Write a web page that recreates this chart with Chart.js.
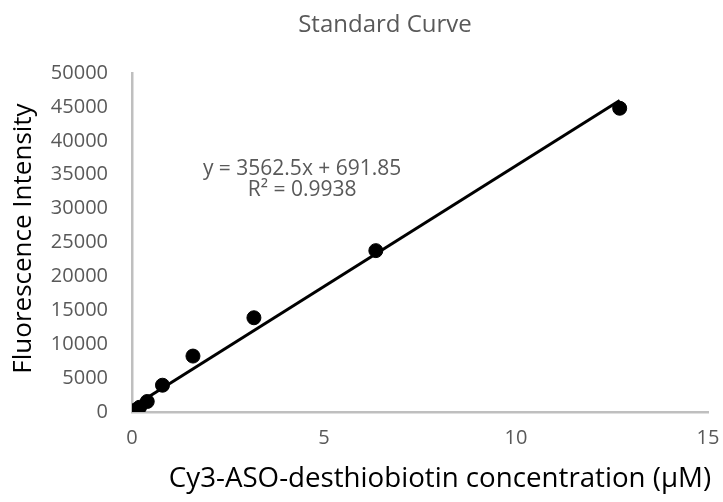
<!DOCTYPE html>
<html>
<head>
<meta charset="utf-8">
<script src="https://cdn.jsdelivr.net/npm/chart.js@4.4.1/dist/chart.umd.min.js"></script>
<style>
  html, body { margin: 0; padding: 0; background: #ffffff; }
  #wrap { width: 723px; height: 502px; }
</style>
</head>
<body>
<div id="wrap"><canvas id="c" width="723" height="502"></canvas></div>
<script>
// Standard curve: Cy3-ASO-desthiobiotin dilution series
const concentrations = [0, 0.099, 0.198, 0.397, 0.794, 1.5875, 3.175, 6.35, 12.7];
const intensities = [0, 300, 700, 1550, 3950, 8250, 13900, 23800, 44800];

// Linear fit reported for the series
const fitSlope = 3562.5;
const fitIntercept = 691.85;
const fitR2 = 0.9938;

const xTicks = [0, 5, 10, 15];
const yTicks = [0, 5000, 10000, 15000, 20000, 25000, 30000, 35000, 40000, 45000, 50000];

const chartTitle = 'Standard Curve';
const xTitle = 'Cy3-ASO-desthiobiotin concentration (\u00B5M)';
const yTitle = 'Fluorescence Intensity';

const grey = '#595959';
const axisGrey = '#bfbfbf';
const fontFamily = '"Open Sans", "Liberation Sans", sans-serif';

const points = concentrations.map((x, i) => ({ x: x, y: intensities[i] }));
const xMinData = Math.min(...concentrations);
const xMaxData = Math.max(...concentrations);
const trend = [
  { x: xMinData, y: fitSlope * xMinData + fitIntercept },
  { x: xMaxData, y: fitSlope * xMaxData + fitIntercept }
];

// Chart title, axis titles and the fit equation
const textLayer = {
  id: 'textLayer',
  afterDraw(chart) {
    const ctx = chart.ctx;
    const area = chart.chartArea;
    const xs = chart.scales.x;
    ctx.save();
    ctx.textBaseline = 'alphabetic';
    ctx.textAlign = 'center';

    // title
    ctx.fillStyle = grey;
    ctx.font = '24px ' + fontFamily;
    ctx.fillText(chartTitle, 385, 32);

    // fit equation
    ctx.font = '21px ' + fontFamily;
    const ex = xs.getPixelForValue(4.43);
    ctx.fillText('y = ' + fitSlope + 'x + ' + fitIntercept, ex, 174.5);
    ctx.fillText('R\u00B2 = ' + fitR2, ex, 195.5);

    // axis titles
    ctx.fillStyle = '#000000';
    ctx.font = '27.7px ' + fontFamily;
    ctx.fillText(xTitle, (area.left + area.right) / 2 + 20, 487);

    ctx.font = '26px ' + fontFamily;
    ctx.translate(31, (area.top + area.bottom) / 2 - 4);
    ctx.rotate(-Math.PI / 2);
    ctx.fillText(yTitle, 0, 0);
    ctx.restore();
  }
};

new Chart(document.getElementById('c'), {
  type: 'scatter',
  data: {
    datasets: [
      {
        label: 'Linear fit',
        type: 'line',
        data: trend,
        borderColor: '#000000',
        borderWidth: 3,
        pointRadius: 0,
        fill: false,
        tension: 0,
        order: 2
      },
      {
        label: 'Fluorescence',
        data: points,
        backgroundColor: '#000000',
        borderColor: '#000000',
        borderWidth: 1,
        pointRadius: 7,
        pointHoverRadius: 7,
        order: 1
      }
    ]
  },
  options: {
    responsive: false,
    animation: false,
    devicePixelRatio: 1,
    layout: { padding: { left: 0, right: 15, top: 73, bottom: 0 } },
    plugins: {
      legend: { display: false },
      tooltip: { enabled: false },
      title: { display: false }
    },
    scales: {
      x: {
        type: 'linear',
        min: 0,
        max: 15,
        afterBuildTicks(scale) { scale.ticks = xTicks.map(v => ({ value: v })); },
        afterFit(scale) {
          scale.height = 90;
          scale.paddingLeft = 0;
          scale.paddingRight = 0;
        },
        grid: { display: false, drawTicks: false },
        border: { display: true, color: axisGrey, width: 2.5 },
        ticks: {
          color: grey,
          padding: 14,
          maxRotation: 0,
          font: { family: fontFamily, size: 20 },
          callback: v => String(v)
        },
        title: { display: false }
      },
      y: {
        type: 'linear',
        min: 0,
        max: 50000,
        afterBuildTicks(scale) { scale.ticks = yTicks.map(v => ({ value: v })); },
        afterFit(scale) {
          scale.width = 132;
          scale.paddingTop = 0;
          scale.paddingBottom = 0;
        },
        grid: { display: false, drawTicks: false },
        border: { display: true, color: axisGrey, width: 2.5 },
        ticks: {
          color: grey,
          padding: 24,
          font: { family: fontFamily, size: 20 },
          callback: v => String(v)
        },
        title: { display: false }
      }
    }
  },
  plugins: [textLayer]
});
</script>
</body>
</html>
